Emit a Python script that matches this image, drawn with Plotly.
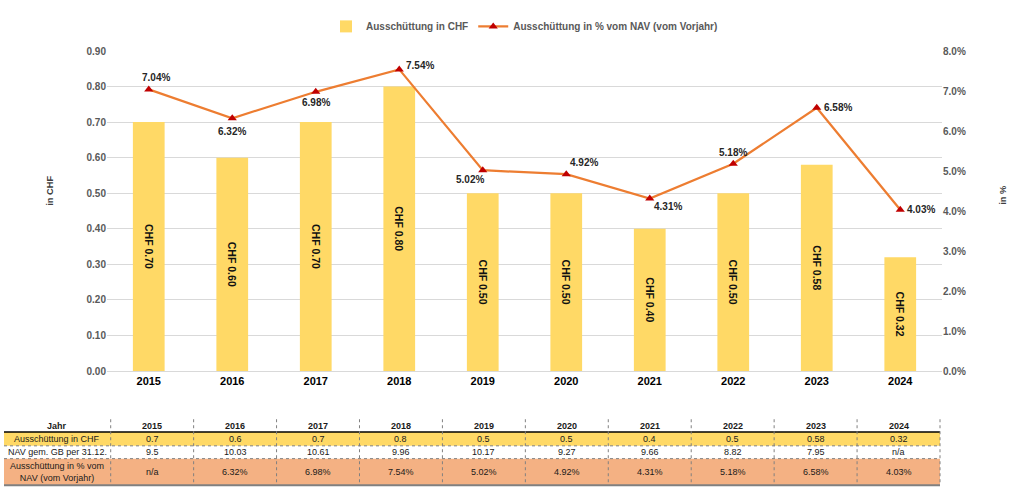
import plotly.graph_objects as go
import numpy as np

# ---------------- data ----------------
years = ['2015', '2016', '2017', '2018', '2019', '2020', '2021', '2022', '2023', '2024']
payout_chf = [0.70, 0.60, 0.70, 0.80, 0.50, 0.50, 0.40, 0.50, 0.58, 0.32]
payout_pct = [7.04, 6.32, 6.98, 7.54, 5.02, 4.92, 4.31, 5.18, 6.58, 4.03]
nav_values = ['9.5', '10.03', '10.61', '9.96', '10.17', '9.27', '9.66', '8.82', '7.95', 'n/a']
pct_table = ['n/a', '6.32%', '6.98%', '7.54%', '5.02%', '4.92%', '4.31%', '5.18%', '6.58%', '4.03%']
row_labels = ['Jahr', 'Ausschüttung in CHF', 'NAV gem. GB per 31.12.',
              'Ausschüttung in % vom<br>NAV (vom Vorjahr)']

# label offsets (pixels) for the percentage labels of the line
label_dx = [7, 0, 0, 21, -13, 18, 18, 0, 21, 21]
label_dy = [12, -13, -11, 4, -9, 12, -8, 11, 0, 0]

# ---------------- layout helpers (pixel -> paper) ----------------
W, H = 1024, 497
ML, MR, MT, MB = 107, 82, 46, 126
PW, PH = W - ML - MR, H - MT - MB


def px(x):
    return (x - ML) / PW


def py(y):
    return (H - MB - y) / PH


BOLD = 'Liberation Sans'
GREY = '#595959'
YELLOW = '#FFD966'
SALMON = '#F4B183'

fig = go.Figure()
fig.add_trace(go.Bar(
    x=years, y=payout_chf, name='Ausschüttung in CHF', width=0.38,
    marker=dict(color=YELLOW, line=dict(width=0)),
    text=[f'CHF {v:.2f}' for v in payout_chf], textposition='inside',
    insidetextanchor='middle', textangle=90, constraintext='none',
    textfont=dict(family=BOLD, size=10.5, color='#111111', weight='bold'),
    hoverinfo='skip'))
fig.add_trace(go.Scatter(
    x=years, y=[v / 100 for v in payout_pct], yaxis='y2',
    name='Ausschüttung in % vom NAV (vom Vorjahr)', mode='lines+markers',
    line=dict(color='#ED7D31', width=2.25),
    marker=dict(symbol='triangle-up', size=8, color='#C00000'),
    hoverinfo='skip'))

annotations = []
for i, (v, dx, dy) in enumerate(zip(payout_pct, label_dx, label_dy)):
    annotations.append(dict(xref='x', yref='y2', x=i, y=v / 100, text=f'{v:.2f}%',
                            showarrow=False, xshift=dx, yshift=dy,
                            xanchor='center', yanchor='middle',
                            font=dict(family=BOLD, size=10, color='#262626', weight='bold')))

# ---------------- table ----------------
shapes = []
tab_left, first_right, tab_right = px(4), px(110.7), px(940)
edges = np.linspace(first_right, tab_right, len(years) + 1)
rows_y = [420, 433, 447, 460, 487]

shapes.append(dict(type='rect', xref='paper', yref='paper', x0=tab_left, x1=tab_right,
                   y0=py(rows_y[1]), y1=py(rows_y[2]), fillcolor=YELLOW, line=dict(width=0), layer='below'))
shapes.append(dict(type='rect', xref='paper', yref='paper', x0=tab_left, x1=tab_right,
                   y0=py(rows_y[3]), y1=py(rows_y[4]), fillcolor=SALMON, line=dict(width=0), layer='below'))
shapes.append(dict(type='line', xref='paper', yref='paper', x0=tab_left, x1=tab_right,
                   y0=py(rows_y[1]), y1=py(rows_y[1]), line=dict(color='#000000', width=1.6)))
for yy in (rows_y[2], rows_y[3]):
    shapes.append(dict(type='line', xref='paper', yref='paper', x0=tab_left, x1=tab_right,
                       y0=py(yy), y1=py(yy), line=dict(color='#808080', width=1, dash='dot')))
shapes.append(dict(type='line', xref='paper', yref='paper', x0=tab_left, x1=tab_right,
                   y0=py(rows_y[4]), y1=py(rows_y[4]), line=dict(color='#808080', width=2)))
for e in edges:
    shapes.append(dict(type='line', xref='paper', yref='paper', x0=e, x1=e,
                       y0=py(rows_y[0]), y1=py(rows_y[4]),
                       line=dict(color='#808080', width=1, dash='dot')))

TFONT = 'Liberation Sans'
TSIZE = 9
row_centers = [(rows_y[i] + rows_y[i + 1]) / 2 for i in range(4)]
first_center = (tab_left + first_right) / 2
for r, lab in enumerate(row_labels):
    annotations.append(dict(xref='paper', yref='paper', x=first_center, y=py(row_centers[r]),
                            text=lab, showarrow=False, xanchor='center', yanchor='middle',
                            font=dict(family=TFONT, size=TSIZE, color='#1a1a1a',
                                      weight='bold' if r == 0 else 'normal')))
table_rows = [years, [f'{v:g}' for v in payout_chf], nav_values, pct_table]
for r, row in enumerate(table_rows):
    for i, val in enumerate(row):
        annotations.append(dict(xref='paper', yref='paper', x=(edges[i] + edges[i + 1]) / 2,
                                y=py(row_centers[r]), text=val, showarrow=False,
                                xanchor='center', yanchor='middle',
                                font=dict(family=TFONT, size=TSIZE, color='#1a1a1a',
                                          weight='bold' if r == 0 else 'normal')))

# axis titles
annotations.append(dict(xref='paper', yref='paper', x=px(50), y=py(188), text='in CHF',
                        textangle=-90, showarrow=False, xanchor='center', yanchor='middle',
                        font=dict(family=BOLD, size=9.3, color='#404040', weight='bold')))
annotations.append(dict(xref='paper', yref='paper', x=px(1003), y=py(192), text='in %',
                        textangle=-90, showarrow=False, xanchor='center', yanchor='middle',
                        font=dict(family=BOLD, size=9.3, color='#404040', weight='bold')))

fig.update_layout(
    width=W, height=H, margin=dict(l=ML, r=MR, t=MT, b=MB, pad=0),
    paper_bgcolor='white', plot_bgcolor='white',
    font=dict(family=BOLD, color=GREY),
    legend=dict(orientation='h', x=0.5, xanchor='center', y=py(21), yanchor='middle',
                font=dict(family=BOLD, size=10, color=GREY, weight='bold'),
                itemwidth=30, traceorder='normal'),
    xaxis=dict(type='category', showgrid=False, showline=True, linecolor='#D9D9D9',
               linewidth=1, ticks='', tickfont=dict(family=BOLD, size=11, color='#000000', weight='bold'),
               range=[-0.5, 9.5]),
    yaxis=dict(range=[0, 0.9], dtick=0.1, tickformat='.2f', showgrid=True,
               gridcolor='#D9D9D9', gridwidth=1, zeroline=False, showline=False, ticks='',
               tickfont=dict(family=BOLD, size=10, color=GREY, weight='bold')),
    yaxis2=dict(range=[0, 0.08], dtick=0.01, tickformat='.1%', overlaying='y', side='right',
                showgrid=False, zeroline=False, showline=False, ticks='',
                tickfont=dict(family=BOLD, size=10, color=GREY, weight='bold')),
    shapes=shapes, annotations=annotations,
)

fig.write_html('out.html', config={'displayModeBar': False},
               post_script="document.body.style.margin='0';")
